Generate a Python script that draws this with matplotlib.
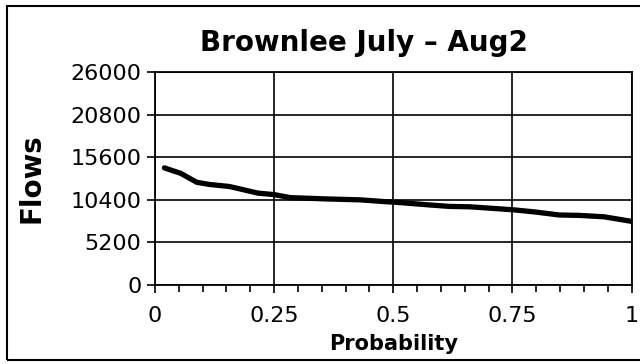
import matplotlib
matplotlib.use("Agg")
import matplotlib.pyplot as plt
from matplotlib.patches import Rectangle
from matplotlib.ticker import MultipleLocator

# exceedance curve
probability = [0.02, 0.054, 0.088, 0.114, 0.156, 0.18, 0.216, 0.25, 0.284, 0.36,
               0.43, 0.48, 0.515, 0.575, 0.617, 0.66, 0.703, 0.754, 0.797, 0.848,
               0.89, 0.942, 1.0]
flows = [14300, 13640, 12540, 12280, 12030, 11710, 11220, 11040, 10670, 10510,
         10400, 10190, 10060, 9780, 9600, 9550, 9380, 9170, 8920, 8550,
         8500, 8330, 7770]

x_ticks = [0, 0.25, 0.5, 0.75, 1]
x_tick_labels = ["0", "0.25", "0.5", "0.75", "1"]
y_ticks = [0, 5200, 10400, 15600, 20800, 26000]

plt.rcParams['font.family'] = ['DejaVu Sans']

fig = plt.figure(figsize=(6.4, 3.64), dpi=100)
ax = fig.add_axes([0.242, 0.217, 0.745, 0.585])

ax.plot(probability, flows, color="black", linewidth=3.8, solid_capstyle="round")

ax.set_xlim(0, 1)
ax.set_ylim(0, 26000)
ax.set_xticks(x_ticks)
ax.set_xticklabels(x_tick_labels)
ax.xaxis.set_minor_locator(MultipleLocator(0.05))
ax.set_yticks(y_ticks)
ax.grid(True, color="black", linewidth=1.2)

ax.tick_params(axis="both", which="major", direction="out", length=6, width=1.2,
               labelsize=16, colors="black")
ax.tick_params(axis="x", which="major", pad=9)
ax.tick_params(axis="x", which="minor", direction="out", length=5, width=1.2)
for s in ax.spines.values():
    s.set_linewidth(1.3)

# title sits centred on the whole chart, not the plot area
fig.text(364 / 640, 1 - 43 / 364, "Brownlee July \u2013 Aug2", fontsize=20,
         fontweight="bold", ha="center", va="center")
ax.set_xlabel("Probability", fontsize=15, fontweight="bold", labelpad=6)
ax.set_ylabel("Flows", fontsize=20, fontweight="bold", labelpad=18)

# outer frame of the chart object
fig.patches.append(Rectangle((7 / 640, 4 / 364), 1.2, 354 / 364, transform=fig.transFigure,
                             fill=False, edgecolor="black", linewidth=1.5))

fig.savefig("out.png", dpi=100)
